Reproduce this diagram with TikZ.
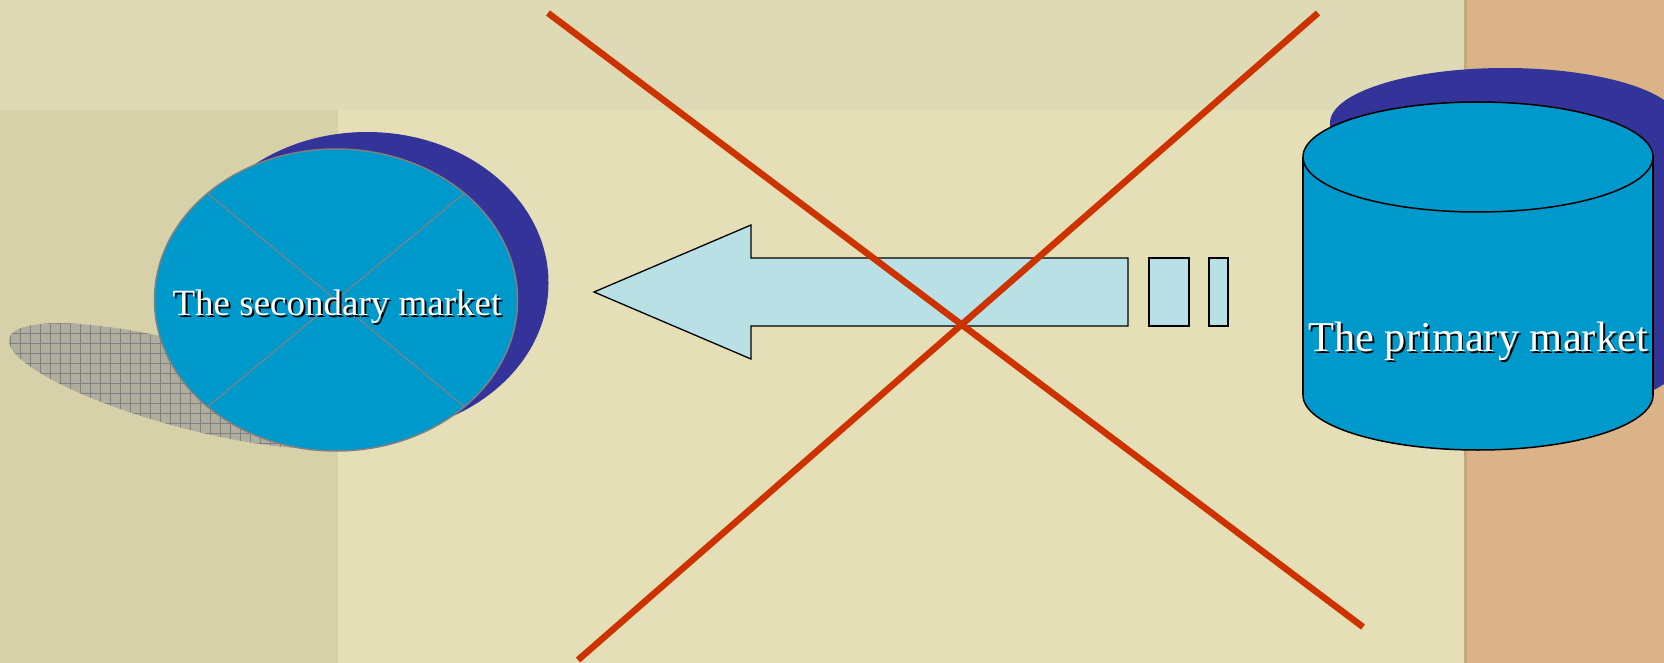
\documentclass[tikz,border=0pt]{standalone}
\usepackage{fontspec}
\setmainfont{Liberation Serif}
\usetikzlibrary{shapes.geometric,patterns.meta}
\definecolor{bgbeige}{HTML}{E4DFB7}
\definecolor{bgband}{HTML}{DEDAB6}
\definecolor{bgphoto}{HTML}{D7D1AA}
\definecolor{bgtan}{HTML}{DAB488}
\definecolor{bgtanedge}{HTML}{C4A677}
\definecolor{mktblue}{HTML}{0099CC}
\definecolor{mktdark}{HTML}{333399}
\definecolor{flowtint}{HTML}{B9E0E4}
\definecolor{crossred}{HTML}{CC3300}
\definecolor{hatchgray}{HTML}{AFAD9E}

\newcommand{\shadowed}[1]{\makebox[0pt][l]{\hspace{2pt}\raisebox{-2pt}{\color{black}#1}}#1}

\begin{document}
\begin{tikzpicture}[
    x=1pt, y=-1pt,
    market/.style={fill=mktblue, line width=1.5pt},
    mktshadow/.style={fill=mktdark},
    mktoval/.style={ellipse, minimum width=363pt, minimum height=302pt, outer sep=0pt, inner sep=0pt},
    mktlabel/.style={text=white, inner sep=0pt, anchor=base},
    flowpart/.style={draw=black, fill=flowtint, line width=1.3pt},
    crossline/.style={draw=crossred, line width=6.5pt}
]
  \useasboundingbox (0,0) rectangle (1664,663);
  \clip (0,0) rectangle (1664,663);

  % background
  \fill[bgbeige] (0,0) rectangle (1664,663);
  \fill[bgband] (0,0) rectangle (1464,110);
  \fill[bgphoto] (0,110) rectangle (338,663);
  \fill[bgtan] (1464,0) rectangle (1664,663);
  \draw[bgtanedge, line width=3pt] (1465,0) -- (1465,663);

  % hatched shadow under the secondary market
  \begin{scope}[rotate around={-15:(188,386)}]
    \fill[hatchgray] (188,386) ellipse [x radius=185, y radius=42];
    \fill[pattern={Hatch[angle=0, distance=10pt, line width=0.8pt]}, pattern color=gray]
      (188,386) ellipse [x radius=185, y radius=42];
  \end{scope}

  % secondary market
  \node[mktoval, mktshadow] (secshadow) at (367,283) {};
  \node[mktoval, market, draw=gray] (secondary) at (336,300) {};
  \draw[gray, line width=1.2pt] (secondary.north east) -- (secondary.south west);
  \draw[gray, line width=1.2pt] (secondary.north west) -- (secondary.south east);
  \node[mktlabel, font=\fontsize{37}{44}\selectfont] (seclabel) at (337,315) {\shadowed{The secondary market}};

  % primary market
  \fill[mktshadow] (1505,361) ellipse [x radius=175, y radius=55];
  \fill[mktshadow] (1330,123) rectangle (1680,361);
  \fill[mktshadow] (1505,123) ellipse [x radius=175, y radius=55];
  \filldraw[market, draw=black] (1478,395) ellipse [x radius=175, y radius=55];
  \fill[mktblue] (1303,157) rectangle (1653,395);
  \draw[black, line width=1.5pt] (1303,157) -- (1303,395) (1653,157) -- (1653,395);
  \filldraw[market, draw=black] (1478,157) ellipse [x radius=175, y radius=55];
  \node[mktlabel, font=\fontsize{42.5}{50}\selectfont] (primary) at (1478,351) {\shadowed{The primary market}};

  % flow arrow
  \draw[flowpart] (594,292) -- (751,225) -- (751,258) -- (1128,258) -- (1128,326)
    -- (751,326) -- (751,359) -- cycle;
  \draw[flowpart] (1149,258) rectangle (1189,326);
  \draw[flowpart] (1209,258) rectangle (1228,326);

  % cross
  \coordinate (crossnw) at (548,13);
  \coordinate (crossse) at (1363,627);
  \coordinate (crossne) at (1318,13);
  \coordinate (crosssw) at (578,660);
  \draw[crossline] (crossnw) -- (crossse);
  \draw[crossline] (crossne) -- (crosssw);
\end{tikzpicture}
\end{document}
